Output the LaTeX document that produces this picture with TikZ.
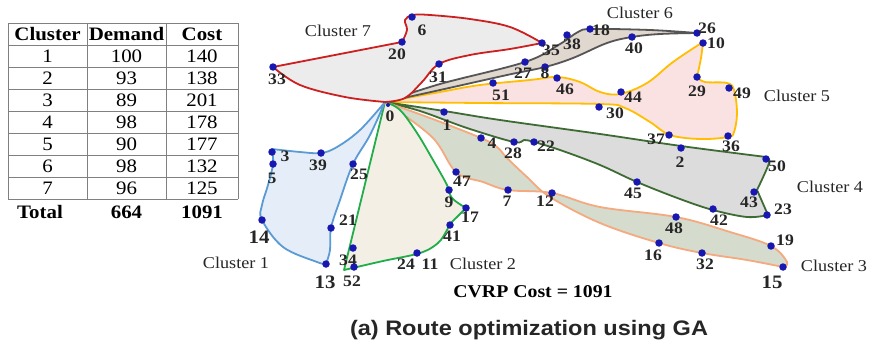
\documentclass[tikz,border=0pt]{standalone}
\usepackage{fontspec}
\setmainfont{Liberation Serif}[FakeStretch=1.1]
\newfontfamily\capfont{Liberation Sans}[FakeStretch=1.12]
\definecolor{cSl}{HTML}{CC1F1F}\definecolor{cSf}{HTML}{ECECEC}
\definecolor{cXl}{HTML}{555555}\definecolor{cXf}{HTML}{E0D7CE}
\definecolor{cVl}{HTML}{FFBF00}\definecolor{cVf}{HTML}{FBE2E2}
\definecolor{cIVl}{HTML}{3E6B34}\definecolor{cIVf}{HTML}{DCDCDC}
\definecolor{cIIIl}{HTML}{F4A97E}\definecolor{cIIIf}{HTML}{D5DCCE}
\definecolor{cIIl}{HTML}{20AD4A}\definecolor{cIIf}{HTML}{F3EFE4}
\definecolor{cIl}{HTML}{5B9BD5}\definecolor{cIf}{HTML}{E5EEF8}
\definecolor{dotc}{HTML}{1818B0}
\definecolor{lblc}{HTML}{262626}
\definecolor{tabc}{HTML}{808080}
\tikzset{
  route/.style={line width=1.8pt, line join=round},
  sm/.style={smooth, tension=0.6},
  dotnode/.style={circle, fill=dotc, inner sep=0pt, minimum size=7.5pt},
  lbl/.style={text=lblc, inner sep=0pt, font=\fontsize{16}{16}\selectfont\bfseries},
  biglbl/.style={text=lblc, inner sep=0pt, font=\fontsize{19}{19}\selectfont\bfseries},
  clabel/.style={text=lblc, inner sep=0pt, font=\fontsize{16.5}{16.5}\selectfont},
  tcell/.style={inner sep=0pt, font=\fontsize{19}{19}\selectfont},
  thead/.style={inner sep=0pt, font=\fontsize{19}{19}\selectfont\bfseries},
  tline/.style={draw=tabc, line width=1pt}
}
\begin{document}
\begin{tikzpicture}[x=1pt, y=-1pt]
\useasboundingbox (0,0) rectangle (869,348);
\fill[white] (0,0) rectangle (869,348);

% ---------- table ----------
\foreach \yy in {23,45,67,89,111,133,155,177,199}
  \draw[tline] (8,\yy) -- (238,\yy);
\foreach \xx in {8,87,166,238}
  \draw[tline] (\xx,23) -- (\xx,199);
\node[thead] (h1) at (47.5,34) {Cluster};
\node[thead] (h2) at (126.5,34) {Demand};
\node[thead] (h3) at (202,34) {Cost};
\foreach \c/\d/\k [count=\i] in {1/100/140,2/93/138,3/89/201,4/98/178,5/90/177,6/98/132,7/96/125}{
  \node[tcell] (ta\i) at (47.5,34+22*\i) {\c};
  \node[tcell] (tb\i) at (126.5,34+22*\i) {\d};
  \node[tcell] (tc\i) at (202,34+22*\i) {\k};
}
\node[thead] (t1) at (40,212) {Total};
\node[thead] (t2) at (126.5,212) {664};
\node[thead] (t3) at (202,212) {1091};

% ---------- cluster 5 ----------
\filldraw[route, draw=cVl, fill=cVf]
  plot[sm] coordinates {(385,102) (440,92) (480,85) (530,80) (557,77) (580,82) (600,92) (620,94) (647,83) (673,62) (703,42)}
  -- plot[sm] coordinates {(703,42) (701,58) (697,77)}
  -- plot[sm] coordinates {(697,77) (705,82) (727,83) (734,90) (737,113) (734,132) (728,137) (700,139) (670,135) (650,122) (625,108) (600,104) (480,103) (385,102)}
  -- cycle;
% ---------- cluster 6 ----------
\filldraw[route, draw=cXl, fill=cXf]
  plot[sm] coordinates {(385,102) (440,84) (525,62) (560,44) (578,32) (592,29) (650,30) (697,33)}
  -- plot[sm] coordinates {(697,33) (660,34) (632,37) (607,43) (573,58) (545,67) (507,75) (440,90) (385,102)}
  -- cycle;
% ---------- cluster 4 ----------
\filldraw[route, draw=cIVl, fill=cIVf]
  plot[sm] coordinates {(385,102) (444,111) (500,120) (600,134) (681,146) (766,157)}
  -- plot[sm] coordinates {(766,157) (769,163) (757,190)}
  -- plot[sm] coordinates {(757,190) (768,215)}
  -- plot[sm] coordinates {(768,215) (747,217) (713,210) (680,199) (637,182) (600,165) (560,150) (534,142) (524,140) (514,142) (467,128) (420,111) (385,102)}
  -- cycle;
% ---------- cluster 3 ----------
\filldraw[route, draw=cIIIl, fill=cIIIf]
  plot[sm] coordinates {(385,102) (430,118) (481,138) (497,147) (507,158) (527,177) (550,197) (600,223) (659,243) (702,253) (747,260) (783,267)}
  -- plot[sm] coordinates {(783,267) (787,262) (771,246) (730,232) (676,217) (600,207) (552,193) (508,190) (483,182) (456,172) (432,137) (385,102)}
  -- cycle;
% ---------- cluster 2 ----------
\filldraw[route, draw=cIIl, fill=cIIf]
  plot[sm] coordinates {(385,102) (400,110) (417,133) (433,160) (447,185) (452,198) (466,208)}
  -- plot[sm] coordinates {(466,208) (457,217) (450,224) (447,230) (438,243) (420,253) (383,261) (344,270)}
  -- cycle;
% ---------- cluster 1 ----------
\filldraw[route, draw=cIl, fill=cIf]
  plot[sm] coordinates {(385,102) (360,130) (337,147) (321,153) (300,152) (272,149)}
  -- plot[sm] coordinates {(272,149) (273,164) (268,185) (262,205) (262,220) (283,247) (317,262) (326,264)}
  -- plot[sm] coordinates {(326,264) (330,250) (331,228) (340,200) (353,164) (370,135) (385,102)}
  -- cycle;
% ---------- cluster 7 ----------
\filldraw[route, draw=cSl, fill=cSf]
  plot[sm] coordinates {(385,102) (405,98) (422,82) (439,64) (470,55) (510,49) (542,43)}
  -- plot[sm] coordinates {(542,43) (510,27) (470,19) (430,15) (413,15) (405,20) (407,30) (402,42)}
  -- (273,67)
  -- plot[sm] coordinates {(273,67) (300,85) (345,97) (385,102)}
  -- cycle;

% ---------- customers ----------
\node[dotnode, minimum size=4pt] (d0) at (388,105) {};
\node[lbl] (l0) at (390,116) {0};
\foreach \n/\x/\y/\lx/\ly in {
  33/273/67/277/79, 20/402/42/397/54, 6/412/17/422/30, 31/439/64/438/77,
  35/542/43/551/50, 27/525/62/523/73, 8/545/67/545/73, 38/567/35/572/44,
  18/590/29/601/30, 40/632/37/634/48, 26/697/33/707/28, 10/703/43/716/43,
  51/493/83/501/95, 46/557/78/565/89, 44/621/92/633/97, 29/697/77/697/91,
  49/729/88/742/93, 30/599/107/615/113, 37/669/135/656/139, 36/728/136/731/146,
  1/444/112/447/125, 4/481/138/492/143, 28/514/142/513/153, 22/534/142/546/146,
  2/681/148/680/162, 50/766/159/777/166, 45/637/182/633/193, 43/754/192/749/202,
  23/767/215/783/209, 42/713/209/719/220, 48/676/217/674/228, 16/659/243/653/255,
  32/702/253/705/264, 19/771/246/785/240, 47/456/172/462/181, 7/508/190/507/201,
  12/552/193/545/201, 9/449/190/449/202, 17/466/208/470/217, 41/450/225/452/236,
  11/417/253/430/264, 34/353/248/348/260, 52/354/267/352/281, 21/331/228/348/220,
  25/353/164/359/174, 39/321/153/318/165, 3/272/152/285/156, 5/273/164/272/178}{
  \node[dotnode] (d\n) at (\x,\y) {};
  \node[lbl] (l\n) at (\lx,\ly) {\n};
}
\node[lbl] (l24) at (406,264) {24};
\node[dotnode] (d13) at (326,264) {};
\node[biglbl] (l13) at (325,282) {13};
\node[dotnode] (d14) at (262,220) {};
\node[biglbl] (l14) at (259,237) {14};
\node[dotnode] (d15) at (783,267) {};
\node[biglbl] (l15) at (772,282) {15};

% ---------- cluster names ----------
\node[clabel] (k7) at (338,31) {Cluster 7};
\node[clabel] (k6) at (640,13) {Cluster 6};
\node[clabel] (k5) at (797,96) {Cluster 5};
\node[clabel] (k4) at (830,187) {Cluster 4};
\node[clabel] (k3) at (834,266) {Cluster 3};
\node[clabel] (k2) at (483,264) {Cluster 2};
\node[clabel] (k1) at (236,263) {Cluster 1};

\node[inner sep=0pt, font=\fontsize{18}{18}\selectfont\bfseries] (cost) at (533,292) {CVRP Cost = 1091};
\node[inner sep=0pt, text=black!85, font=\capfont\fontsize{21}{21}\selectfont\bfseries] (cap) at (529,330) {(a) Route optimization using GA};
\end{tikzpicture}
\end{document}
